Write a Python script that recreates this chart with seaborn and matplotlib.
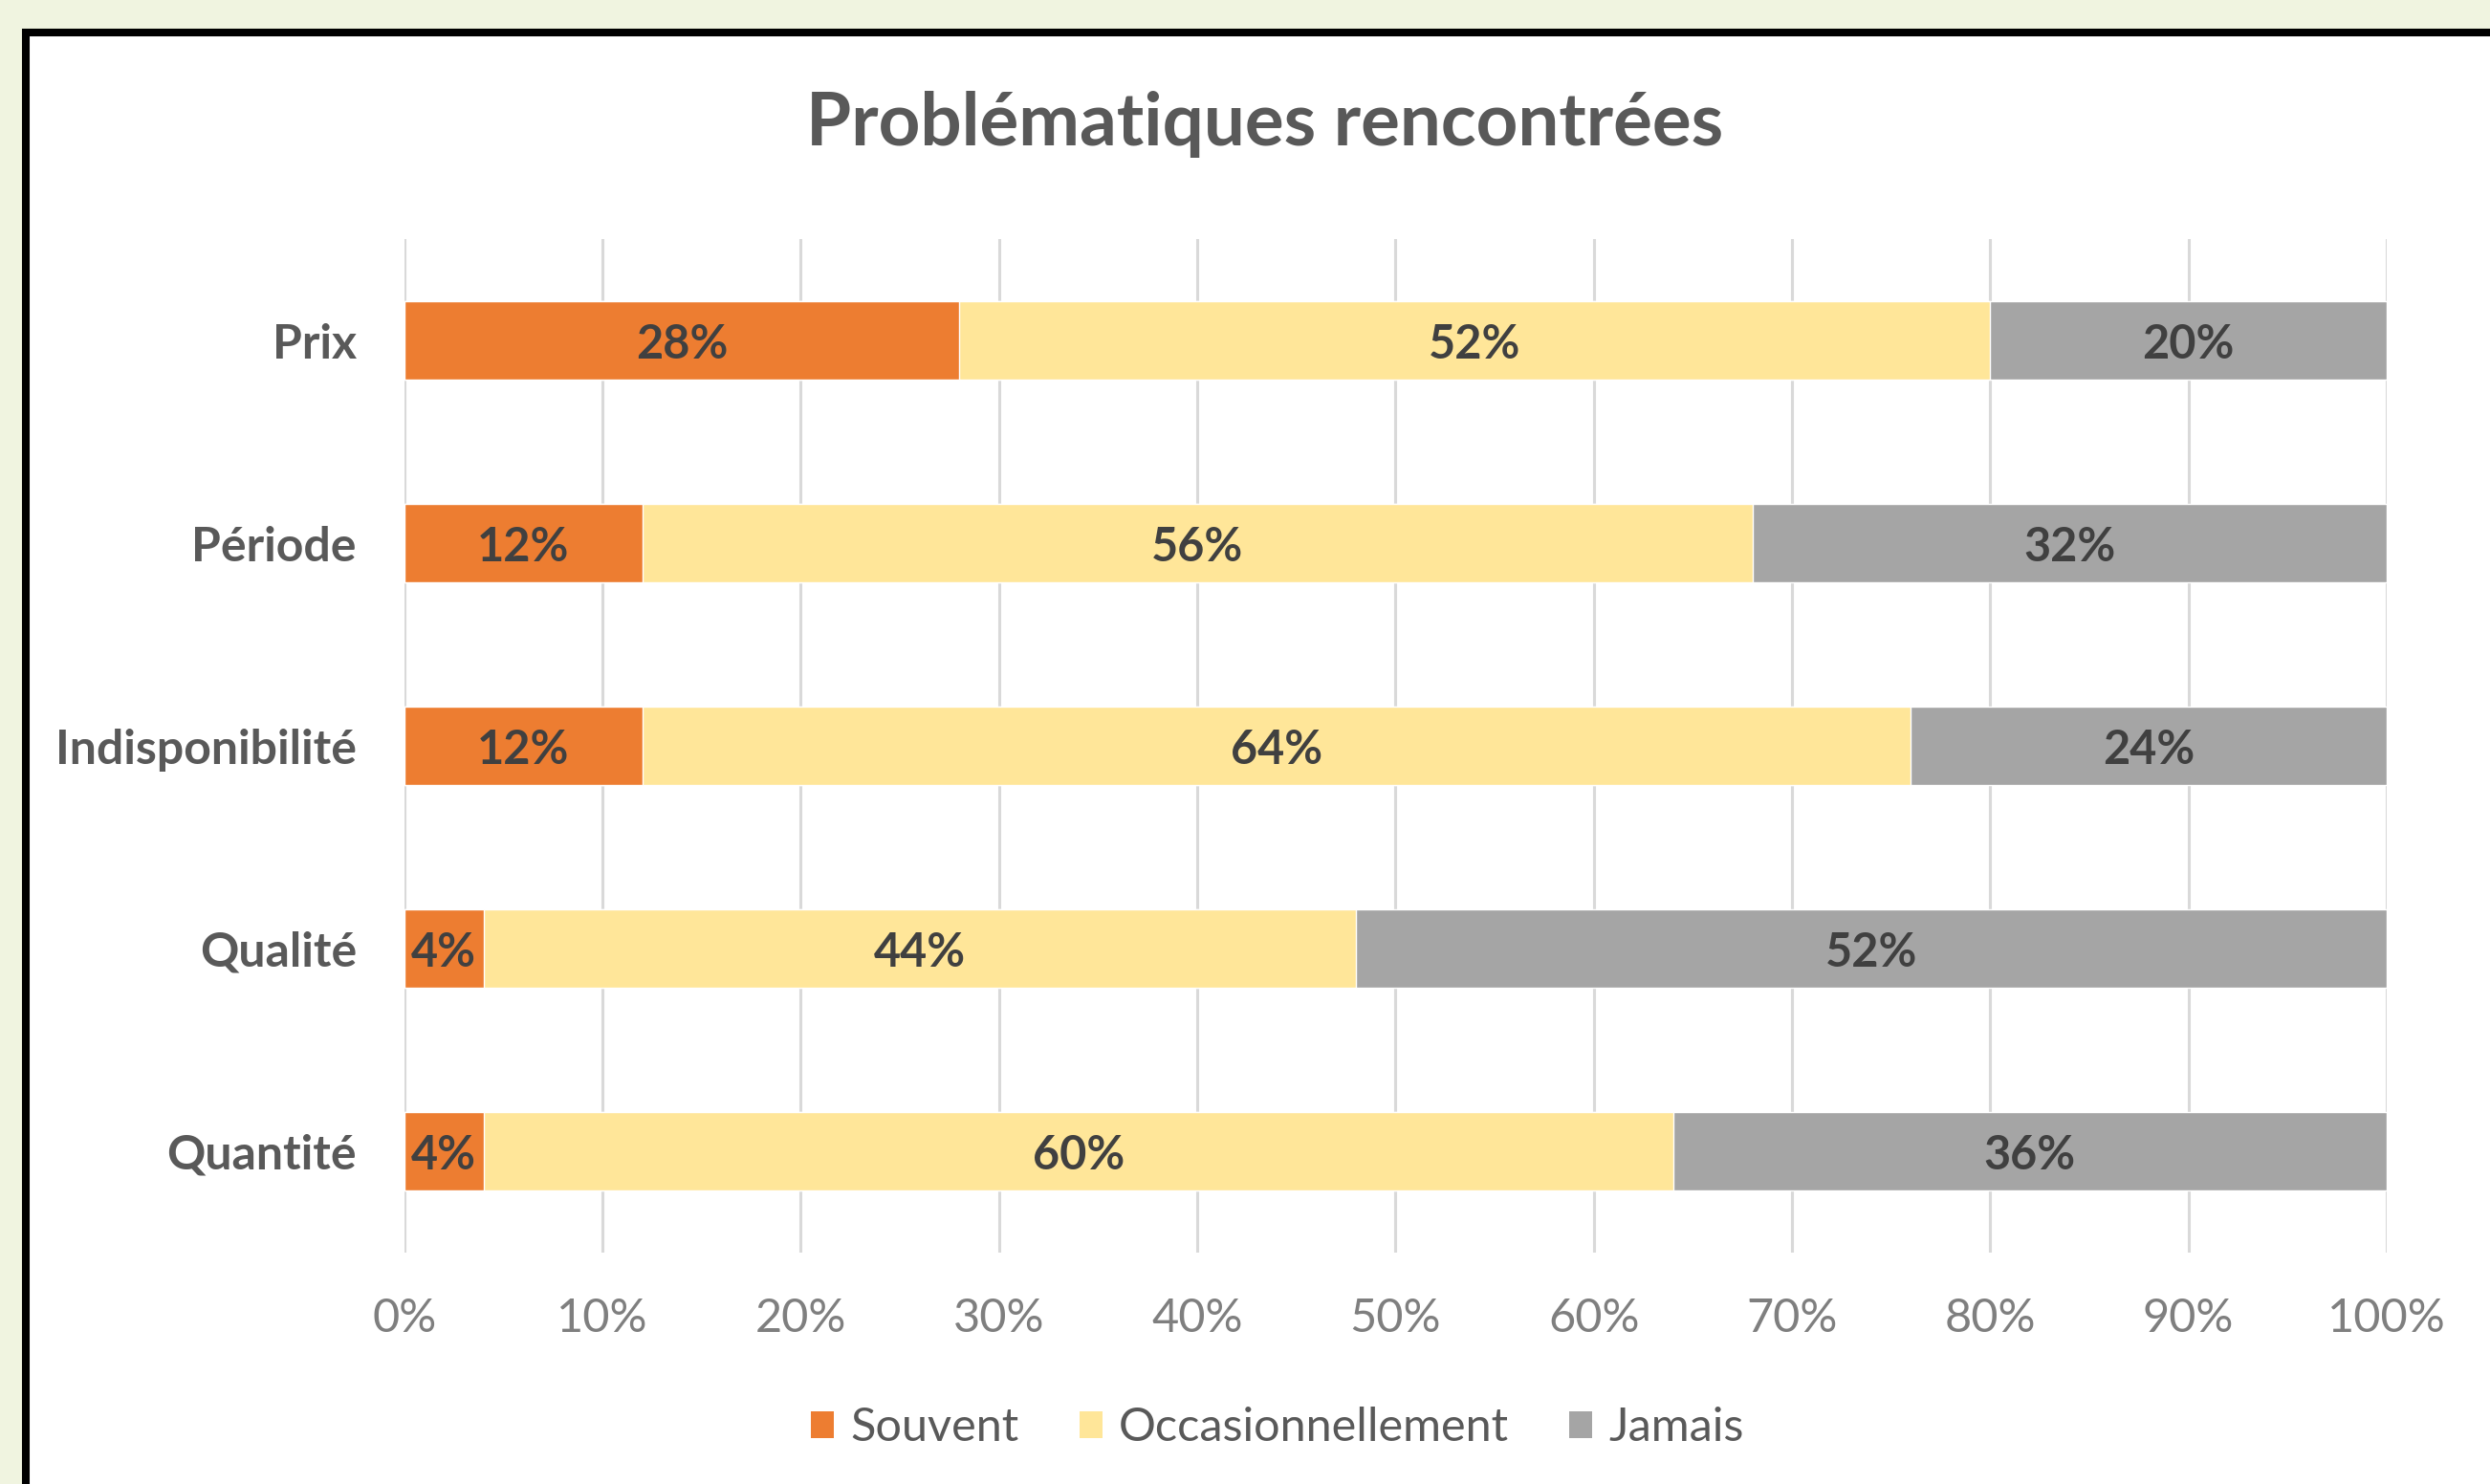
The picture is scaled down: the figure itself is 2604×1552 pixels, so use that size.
import numpy as np
import pandas as pd
import matplotlib
matplotlib.use('agg')
import matplotlib.pyplot as plt
from matplotlib.patches import Rectangle, Patch
import seaborn as sns

sns.set_style("white")
plt.rcParams['font.family'] = ['Lato', 'DejaVu Sans']

categories = ["Prix", "Période", "Indisponibilité", "Qualité", "Quantité"]
souvent = [28, 12, 12, 4, 4]
occasionnellement = [52, 56, 64, 44, 60]
jamais = [20, 32, 24, 52, 36]
series_names = ["Souvent", "Occasionnellement", "Jamais"]
colors = ["#ED7D31", "#FFE699", "#A5A5A5"]
x_ticks = [0, 10, 20, 30, 40, 50, 60, 70, 80, 90, 100]

df = pd.DataFrame({"cat": categories, "Souvent": souvent,
                   "Occasionnellement": occasionnellement, "Jamais": jamais})
df["c1"] = df["Souvent"]
df["c2"] = df["c1"] + df["Occasionnellement"]
df["c3"] = df["c2"] + df["Jamais"]

fig = plt.figure(figsize=(26.04, 15.52), dpi=100, facecolor="#F0F4E0")
# white card with black frame
fig.patches.append(Rectangle((27 / 2604, -0.05), 1.1, 1 - 34 / 1552 + 0.05,
                             transform=fig.transFigure, facecolor="white",
                             edgecolor="black", linewidth=5.8, zorder=-1))

ax = fig.add_axes([0.1624, 0.1559, 0.9585 - 0.1624, 0.8389 - 0.1559])
ax.set_facecolor("none")

# stacked bars drawn as overlapping cumulative layers
for col, color in zip(["c3", "c2", "c1"], colors[::-1]):
    sns.barplot(data=df, x=col, y="cat", color=color, width=0.39,
                orient="h", ax=ax, saturation=1, zorder=3)

# segment labels
for i, row in df.iterrows():
    starts = [0, row["c1"], row["c2"]]
    for s, name in zip(starts, series_names):
        v = row[name]
        ax.text(s + v / 2, i, f"{v}%", ha="center", va="center_baseline",
                fontsize=35, fontweight="bold", color="#404040", zorder=5)

ax.set_xlim(0, 100)
ax.set_xticks(x_ticks)
ax.set_xticklabels([f"{t}%" for t in x_ticks])
ax.grid(axis="x", color="#D9D9D9", linewidth=2.2, zorder=0)
ax.set_axisbelow(True)
for s in ax.spines.values():
    s.set_visible(False)
ax.tick_params(axis="x", length=0, pad=34, labelsize=35, labelcolor="#7F7F7F")
ax.tick_params(axis="y", length=0, pad=36, labelsize=36, labelcolor="#595959")
for lbl in ax.get_yticklabels():
    lbl.set_fontweight("bold")
ax.set_xlabel("")
ax.set_ylabel("")

fig.text(0.508, 0.916, "Problématiques rencontrées", ha="center", va="center",
         fontsize=55, fontweight="bold", color="#595959")

handles = [Patch(facecolor=c, edgecolor="none") for c in colors]
fig.legend(handles, series_names, loc="center", bbox_to_anchor=(0.513, 0.038),
           ncol=3, frameon=False, fontsize=35, handlelength=0.5, handleheight=0.5,
           handletextpad=0.35, columnspacing=1.3, labelcolor="#595959")

plt.savefig("out.png", dpi=100, facecolor=fig.get_facecolor())
plt.close()
